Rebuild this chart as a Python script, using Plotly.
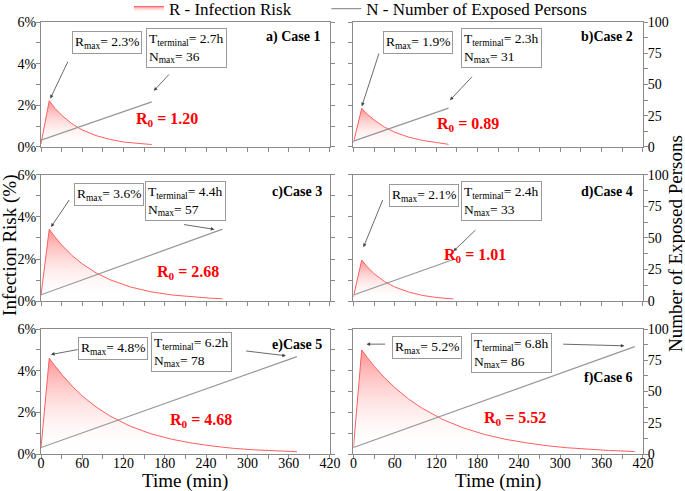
import plotly.graph_objects as go

# ---------------- data ----------------
case_labels = ["a) Case 1", "b)Case 2", "c)Case 3", "d)Case 4", "e)Case 5", "f)Case 6"]
r0_values = ["1.20", "0.89", "2.68", "1.01", "4.68", "5.52"]
r_max_text = ["2.3", "1.9", "3.6", "2.1", "4.8", "5.2"]
t_terminal_text = ["2.7", "2.3", "4.4", "2.4", "6.2", "6.8"]
n_max = [36, 31, 57, 33, 78, 86]
n_start = [5.3, 4.6, 5.0, 4.8, 5.2, 5.2]
t_end = [161, 138, 264, 145, 372, 408]

t_case1 = [0, 12, 20, 30, 45, 60, 80, 100, 120, 140, 161]
r_case1 = [0.15, 2.22, 1.86, 1.52, 1.11, 0.81, 0.54, 0.36, 0.23, 0.16, 0.11]
t_case2 = [0, 12, 20, 30, 45, 60, 80, 100, 120, 138]
r_case2 = [0.2, 1.85, 1.57, 1.29, 0.95, 0.70, 0.47, 0.31, 0.21, 0.12]
t_case3 = [0, 12, 20, 30, 45, 60, 80, 100, 130, 160, 190, 220, 245, 264]
r_case3 = [0.27, 3.42, 3.06, 2.67, 2.17, 1.77, 1.34, 1.02, 0.67, 0.44, 0.29, 0.20, 0.14, 0.11]
t_case4 = [0, 12, 20, 30, 45, 60, 80, 100, 120, 145]
r_case4 = [0.2, 1.95, 1.63, 1.30, 0.93, 0.67, 0.43, 0.27, 0.17, 0.10]
t_case5 = [0, 12, 20, 30, 45, 60, 80, 100, 130, 160, 190, 220, 250, 280, 310, 340, 372]
r_case5 = [0.3, 4.6, 4.25, 3.83, 3.27, 2.79, 2.26, 1.83, 1.33, 0.97, 0.71, 0.52, 0.38, 0.27, 0.20, 0.15, 0.11]
t_case6 = [0, 12, 20, 30, 45, 60, 80, 100, 130, 160, 190, 220, 250, 280, 310, 340, 370, 408]
r_case6 = [0.3, 5.0, 4.64, 4.22, 3.67, 3.19, 2.64, 2.19, 1.65, 1.25, 0.94, 0.71, 0.54, 0.40, 0.30, 0.23, 0.17, 0.12]

t_series = [t_case1, t_case2, t_case3, t_case4, t_case5, t_case6]
r_series = [r_case1, r_case2, r_case3, r_case4, r_case5, r_case6]

x_ticks = list(range(0, 421, 30))
pct_ticks = [0, 1, 2, 3, 4, 5, 6]
n_ticks = [0, 12.5, 25, 37.5, 50, 62.5, 75, 87.5, 100]

# ---------------- layout helpers ----------------
FONT = "Liberation Serif"
AXC = "#8a8a8a"
xdom = [[0.0, 0.480], [0.519, 1.0]]
ydom = [[0.711, 1.0], [0.354, 0.646], [0.0, 0.289]]

# annotation placement (data coords of each panel)
rbox = [(96, 5.03), (94, 5.02), (99, 5.09), (102, 5.04), (105, 5.07), (107, 5.12)]
tbox = [(211, 4.76), (215, 4.77), (210, 4.75), (215, 4.77), (219, 4.9), (229, 4.85)]
r_arrow = [((40, 4.16), (13.5, 2.32)), ((37.7, 4.56), (12.2, 1.95)), ((42.5, 4.88), (14.5, 3.52)),
           ((43.4, 4.88), (14.5, 2.56)), ((55.5, 5.03), (14.5, 4.78)), ((48, 5.28), (19, 5.28))]
t_arrow = [((188, 3.55), (164, 2.69)), ((174, 3.44), (140, 2.24)), ((205.6, 3.65), (252, 3.41)),
           ((179, 3.44), (145, 2.37)), ((296, 4.96), (356, 4.72)), ((302, 5.28), (393, 5.2))]
case_pos = [(409, 5.28), (409, 5.28), (412, 5.2), (408, 5.2), (412, 5.26), (408, 3.63)]
r0_pos = [(183, 1.33), (166.5, 1.09), (214, 1.36), (176, 2.16), (233, 1.63), (234, 1.71)]

fig = go.Figure()
leg_common = dict(orientation="h", xanchor="left", y=1.030, yanchor="middle",
                  font=dict(family=FONT, size=17), bgcolor="rgba(0,0,0,0)",
                  itemwidth=30, borderwidth=0)
layout = dict(
    width=685, height=491,
    margin=dict(l=41, r=42, t=22, b=37, autoexpand=False),
    paper_bgcolor="white", plot_bgcolor="white",
    font=dict(family=FONT, size=14, color="black"),
    showlegend=True,
    legend=dict(leg_common, x=0.146),
    legend2=dict(leg_common, x=0.474),
)
annotations = []

for i in range(6):
    k = i + 1
    row, col = i // 2, i % 2
    xa, ya, na = f"x{k}", f"y{k}", f"y{k + 6}"
    xname = "xaxis" if k == 1 else f"xaxis{k}"
    yname = "yaxis" if k == 1 else f"yaxis{k}"
    nname = f"yaxis{k + 6}"

    bottom = row == 2
    layout[xname] = dict(
        domain=xdom[col], anchor=ya, range=[0, 420],
        tickmode="array", tickvals=x_ticks,
        ticktext=[str(v) if v % 60 == 0 else "" for v in x_ticks],
        showticklabels=bottom, ticks="outside", ticklen=4, tickcolor=AXC,
        ticklabelstandoff=-8,
        showline=True, linecolor=AXC, linewidth=1, mirror=True,
        showgrid=False, zeroline=False, tickfont=dict(size=14), automargin=False,
    )
    layout[yname] = dict(
        domain=ydom[row], anchor=xa, range=[0, 6],
        tickmode="array", tickvals=pct_ticks,
        ticktext=["0%", "", "2%", "", "4%", "", "6%"],
        showticklabels=(col == 0), ticks="outside", ticklen=4, tickcolor=AXC,
        ticklabelstandoff=-3,
        showline=True, linecolor=AXC, linewidth=1,
        mirror="ticks" if col == 0 else True,
        showgrid=False, zeroline=False, tickfont=dict(size=14), automargin=False,
    )
    if col == 1:
        layout[nname] = dict(
            overlaying=ya, anchor=xa, side="right", range=[0, 100],
            tickmode="array", tickvals=n_ticks,
            ticktext=[f"{int(v)}" if v % 25 == 0 else "" for v in n_ticks],
            ticks="outside", ticklen=4, tickcolor=AXC, ticklabelstandoff=-3,
            showline=True, linecolor=AXC, linewidth=1,
            showgrid=False, zeroline=False, tickfont=dict(size=14), automargin=False,
        )
    else:
        layout[nname] = dict(overlaying=ya, anchor=xa, side="right", range=[0, 100],
                             visible=False, showgrid=False, zeroline=False)

    # infection risk curve with gradient fill
    fig.add_trace(go.Scatter(
        x=t_series[i], y=r_series[i], xaxis=xa, yaxis=ya, mode="lines",
        line=dict(color="rgb(255,95,95)", width=1),
        fill="tozeroy",
        fillgradient=dict(type="vertical",
                          colorscale=[[0, "rgba(255,255,255,0)"], [1, "rgba(255,110,110,0.75)"]]),
        name="R - Infection Risk", legend="legend", legendgroup="R", showlegend=(i == 0),
        hoverinfo="skip",
    ))
    # number of exposed persons
    fig.add_trace(go.Scatter(
        x=[0, t_end[i]], y=[n_start[i], n_max[i]], xaxis=xa, yaxis=na, mode="lines",
        line=dict(color="rgb(150,150,150)", width=1.2),
        name="N - Number of Exposed Persons", legend="legend2", legendgroup="N",
        showlegend=(i == 0), hoverinfo="skip",
    ))

    box = dict(xref=xa, yref=ya, showarrow=False, bordercolor="#9a9a9a", borderwidth=1,
               borderpad=2, bgcolor="white", font=dict(family=FONT, size=13.5), align="left")
    annotations.append(dict(box, x=rbox[i][0], y=rbox[i][1],
                            text=f"R<sub>max</sub>= {r_max_text[i]}%"))
    annotations.append(dict(box, x=tbox[i][0], y=tbox[i][1],
                            text=f"T<sub>terminal</sub>= {t_terminal_text[i]}h<br>N<sub>max</sub>= {n_max[i]}"))
    for (tail, head) in (r_arrow[i], t_arrow[i]):
        annotations.append(dict(xref=xa, yref=ya, axref=xa, ayref=ya,
                                x=head[0], y=head[1], ax=tail[0], ay=tail[1],
                                text="", showarrow=True, arrowhead=2, arrowsize=0.9,
                                arrowwidth=0.8, arrowcolor="#444"))
    annotations.append(dict(xref=xa, yref=ya, x=case_pos[i][0], y=case_pos[i][1],
                            xanchor="right", showarrow=False,
                            text=f"<b>{case_labels[i]}</b>", font=dict(family=FONT, size=14)))
    annotations.append(dict(xref=xa, yref=ya, x=r0_pos[i][0], y=r0_pos[i][1],
                            showarrow=False, text=f"<b>R<sub>0</sub> = {r0_values[i]}</b>",
                            font=dict(family=FONT, size=16, color="red")))

# axis titles
annotations.append(dict(xref="paper", yref="paper", x=-0.0515, y=0.484, textangle=-90,
                        xanchor="center", yanchor="middle",
                        showarrow=False, text="Infection Risk (%)",
                        font=dict(family=FONT, size=19)))
annotations.append(dict(xref="paper", yref="paper", x=1.053, y=0.488, textangle=-90,
                        xanchor="center", yanchor="middle",
                        showarrow=False, text="Number of Exposed Persons",
                        font=dict(family=FONT, size=19)))
for cx in (0.240, 0.759):
    annotations.append(dict(xref="paper", yref="paper", x=cx, y=-0.063,
                            xanchor="center", yanchor="middle", showarrow=False,
                            text="Time (min)", font=dict(family=FONT, size=19)))

layout["annotations"] = annotations
fig.update_layout(**layout)
fig.write_html("out.html", config={"displayModeBar": False},
               post_script="document.body.style.margin='0px';")
